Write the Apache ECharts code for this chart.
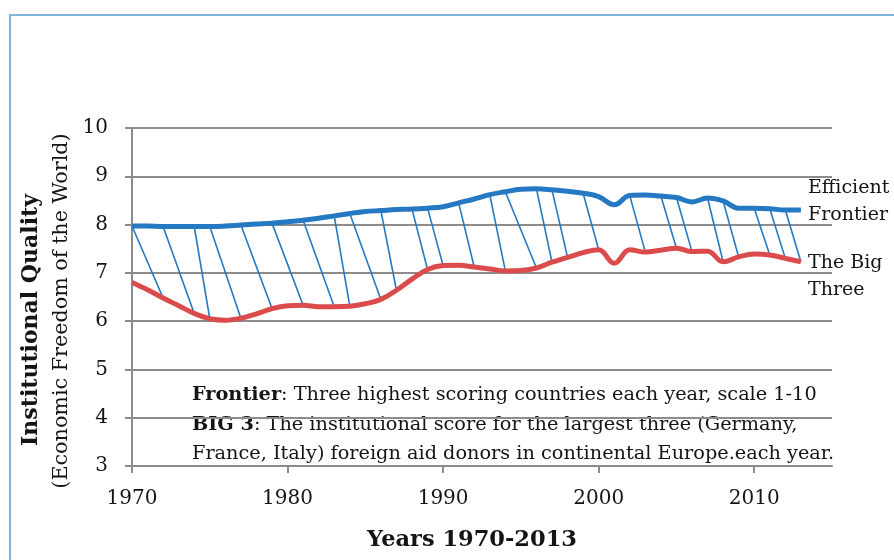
<!DOCTYPE html>
<html>
<head>
<meta charset="utf-8">
<script src="https://cdn.jsdelivr.net/npm/echarts@6/dist/echarts.min.js"></script>
<style>
  html, body { margin: 0; padding: 0; background: #fff; }
  #chart { width: 894px; height: 560px; }
</style>
</head>
<body>
<div id="chart"></div>
<script>
// ---- data ----
const years = [1970,1971,1972,1973,1974,1975,1976,1977,1978,1979,1980,1981,1982,1983,1984,1985,1986,1987,1988,1989,1990,1991,1992,1993,1994,1995,1996,1997,1998,1999,2000,2001,2002,2003,2004,2005,2006,2007,2008,2009,2010,2011,2012,2013];
const frontier = [7.97,7.97,7.96,7.96,7.96,7.96,7.97,7.99,8.01,8.03,8.06,8.09,8.13,8.18,8.23,8.27,8.29,8.31,8.32,8.34,8.37,8.45,8.53,8.62,8.68,8.73,8.74,8.72,8.69,8.65,8.58,8.41,8.60,8.61,8.59,8.56,8.47,8.55,8.49,8.34,8.34,8.33,8.30,8.30];
const bigThree = [6.80,6.65,6.48,6.32,6.16,6.05,6.02,6.06,6.15,6.26,6.32,6.33,6.30,6.30,6.31,6.36,6.45,6.64,6.87,7.07,7.15,7.16,7.12,7.08,7.04,7.05,7.10,7.22,7.32,7.42,7.48,7.20,7.48,7.43,7.47,7.51,7.44,7.45,7.23,7.33,7.39,7.37,7.30,7.23];
// hatch lines: from frontier at year hatchFrom[k] to big three at year hatchTo[k]
const hatchFrom = [1970,1972,1974,1975,1977,1979,1981,1983,1984,1986,1988,1989,1991,1993,1994,1996,1997,1999,2002,2004,2005,2007,2008,2010,2011,2012];
const hatchTo   = [1972,1974,1975,1977,1979,1981,1983,1984,1986,1987,1989,1990,1992,1994,1996,1997,1998,2000,2003,2005,2006,2008,2009,2011,2012,2013];
const xTicks = [1970,1980,1990,2000,2010];

const frontierData = years.map((y, i) => [y, frontier[i]]);
const bigThreeData = years.map((y, i) => [y, bigThree[i]]);
const hatchData = hatchFrom.map((f, k) => {
  const t = hatchTo[k];
  return [f, frontier[years.indexOf(f)], t, bigThree[years.indexOf(t)]];
});

const BLUE = '#2479c2';
const RED = '#dc4b4c';
const GRID = '#8c8c8c';
const TXT = '#141414';
const FONT = 'DejaVu Serif';
const ANN = '19.3px "DejaVu Serif"';
const ANNB = 'bold 19.3px "DejaVu Serif"';

const chart = echarts.init(document.getElementById('chart'), null, { renderer: 'canvas' });
chart.setOption({
  animation: false,
  backgroundColor: '#ffffff',
  grid: { left: 132, right: 62, top: 128, bottom: 94, containLabel: false },
  xAxis: {
    type: 'value', min: 1970, max: 2015, interval: 10,
    axisLine: { show: true, lineStyle: { color: GRID, width: 2 } },
    axisTick: { show: true, length: 7, lineStyle: { color: GRID, width: 2 }, customValues: xTicks },
    axisLabel: { customValues: xTicks, formatter: v => String(v), margin: 23, color: TXT, fontFamily: FONT, fontSize: 20 },
    splitLine: { show: false }
  },
  yAxis: {
    type: 'value', min: 3, max: 10, interval: 1,
    axisLine: { show: true, lineStyle: { color: GRID, width: 2 } },
    axisTick: { show: true, length: 7, lineStyle: { color: GRID, width: 2 } },
    axisLabel: { margin: 24, color: TXT, fontFamily: FONT, fontSize: 20 },
    splitLine: { show: true, lineStyle: { color: GRID, width: 2 } }
  },
  series: [
    {
      type: 'custom', name: 'hatch', z: 1,
      data: hatchData,
      renderItem: function (params, api) {
        const p1 = api.coord([api.value(0), api.value(1)]);
        const p2 = api.coord([api.value(2), api.value(3)]);
        return { type: 'line', shape: { x1: p1[0], y1: p1[1], x2: p2[0], y2: p2[1] },
                 style: { stroke: BLUE, lineWidth: 1.6 } };
      }
    },
    {
      type: 'line', name: 'Efficient Frontier', data: frontierData, smooth: 0.4,
      showSymbol: false, z: 3, lineStyle: { color: BLUE, width: 5 }
    },
    {
      type: 'line', name: 'The Big Three', data: bigThreeData, smooth: 0.4,
      showSymbol: false, z: 3, lineStyle: { color: RED, width: 5 }
    }
  ],
  graphic: [
    { type: 'rect', shape: { x: 10, y: 15, width: 1000, height: 700 },
      style: { fill: 'none', stroke: '#80b5dc', lineWidth: 2 }, silent: true },
    { type: 'text', x: 31, y: 320, rotation: Math.PI / 2,
      style: { text: 'Institutional Quality', fill: TXT, font: 'bold 22px "DejaVu Serif"', align: 'center', verticalAlign: 'middle' } },
    { type: 'text', x: 62, y: 311, rotation: Math.PI / 2,
      style: { text: '(Economic Freedom of the World)', fill: TXT, font: '20.7px "DejaVu Serif"', align: 'center', verticalAlign: 'middle' } },
    { type: 'text', x: 472, y: 540,
      style: { text: 'Years 1970-2013', fill: TXT, font: 'bold 22.5px "DejaVu Serif"', align: 'center', verticalAlign: 'middle' } },
    { type: 'text', x: 808, y: 202,
      style: { text: 'Efficient\nFrontier', fill: TXT, font: '19px "DejaVu Serif"', lineHeight: 27, align: 'left', verticalAlign: 'middle' } },
    { type: 'text', x: 808, y: 277,
      style: { text: 'The Big\nThree', fill: TXT, font: '19px "DejaVu Serif"', lineHeight: 27, align: 'left', verticalAlign: 'middle' } },
    { type: 'text', x: 192, y: 395,
      style: { text: '{b|Frontier}{r|: Three highest scoring countries each year, scale 1-10}', verticalAlign: 'middle',
        rich: { b: { font: ANNB, fill: TXT }, r: { font: ANN, fill: TXT } } } },
    { type: 'text', x: 192, y: 425,
      style: { text: '{b|BIG 3}{r|: The institutional score for the largest three (Germany,}', verticalAlign: 'middle',
        rich: { b: { font: ANNB, fill: TXT }, r: { font: ANN, fill: TXT } } } },
    { type: 'text', x: 192, y: 454,
      style: { text: 'France, Italy) foreign aid donors in continental Europe.each year.', fill: TXT, font: ANN, verticalAlign: 'middle' } }
  ]
});
</script>
</body>
</html>
